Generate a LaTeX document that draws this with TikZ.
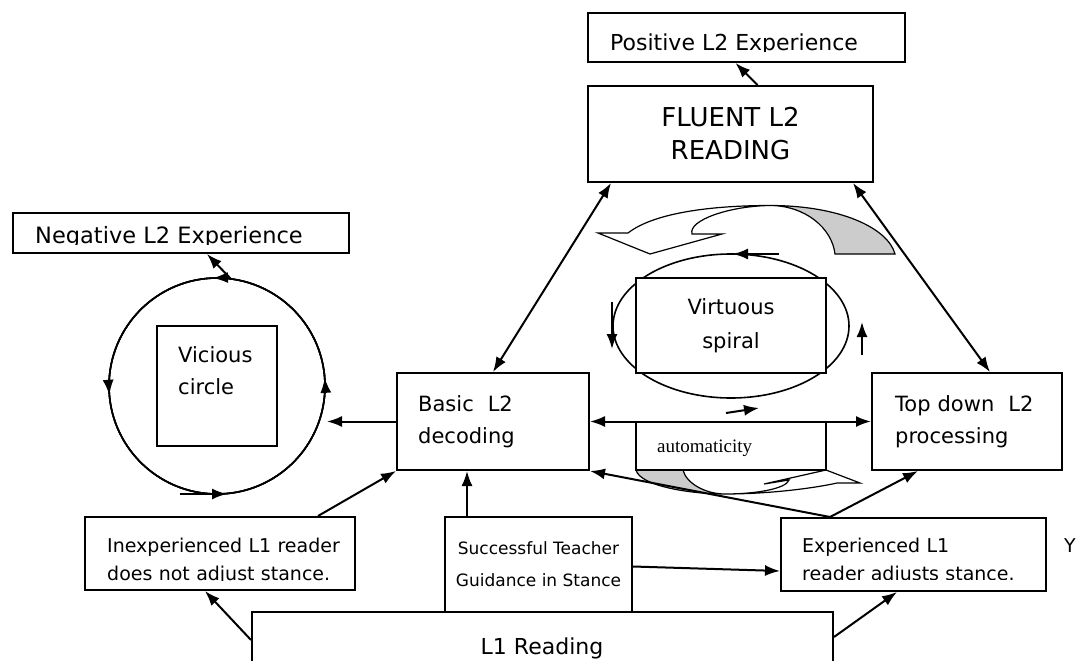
\documentclass[tikz,border=0pt]{standalone}
\usepackage{fontspec}
\setmainfont{DejaVu Sans}
\newfontfamily\timesfont{Liberation Serif}
\usetikzlibrary{arrows.meta,decorations.markings}

\tikzset{
  box/.style={draw, line width=2pt, fill=white, inner sep=0pt},
  txt/.style={inner sep=0pt, font=\fontsize{21}{32}\selectfont},
  smalltxt/.style={inner sep=0pt, font=\fontsize{19}{28}\selectfont},
  arr/.style={line width=2pt, -{Latex[length=15pt,width=11pt]}},
  darr/.style={line width=2pt, {Latex[length=15pt,width=11pt]}-{Latex[length=15pt,width=11pt]}},
  ring/.style={line width=1.6pt},
  blockfront/.style={line width=1.2pt, fill=white},
  blockback/.style={line width=1.2pt, fill=black!20},
  tipmark/.style={postaction={decorate}, decoration={markings,
      mark=at position #1 with {\arrowreversed{Latex[length=15pt,width=11pt]}}}},
}

\begin{document}
\begin{tikzpicture}[x=1pt,y=-1pt]
  \useasboundingbox (0,0) rectangle (1090,661);

  % the curved block arrows round the spiral
  \filldraw[blockback] (770,205.5) .. controls (840,205.5) and (888,228) .. (895,254)
     -- (835,254) .. controls (832,228) and (805,205.5) .. cycle;
  \filldraw[blockfront] (598,233) -- (628,233) .. controls (655,212) and (715,205.5) .. (770,205.5)
     .. controls (730,206) and (688,220) .. (692,234) -- (722,234) -- (650,254) -- cycle;
  \filldraw[blockback] (636,470) .. controls (640,486) and (690,494) .. (725,494)
     .. controls (705,494) and (686,483) .. (683,470) -- cycle;
  \filldraw[blockfront] (725,494) .. controls (770,494) and (815,488) .. (837,483) -- (860,483)
     -- (826,470) -- (764,484) -- (789,480) .. controls (786,489) and (755,494) .. cycle;

  % vicious circle
  \coordinate (vcirc) at (217,386);
  \coordinate (vctop) at (231,279);
  \coordinate (vcin) at (327,421.5);
  \draw[ring, tipmark=0.487] (vcirc) circle (108);
  \draw[ring, tipmark=0.744] (vcirc) circle (108);
  \draw[ring, tipmark=0.988] (vcirc) circle (108);
  \node[box, minimum width=120, minimum height=120] (vicious) at (vcirc) {};
  \node[txt, anchor=base west, text width=95, align=left] (vicioustxt) at (178,362) {Vicious\\circle};

  % virtuous spiral
  \coordinate (vspiral) at (731,326);
  \draw[ring] (vspiral) ellipse (118 and 72);
  \node[box, minimum width=190, minimum height=95, align=center,
        font=\fontsize{21}{34}\selectfont] (virtuous) at (731,325.5) {Virtuous\\spiral};

  % boxes
  \node[box, minimum width=317, minimum height=49] (pos) at (746.5,37.5) {};
  \begin{scope}
    \clip (588,13) rectangle (905,52);
    \node[txt, anchor=base west, font=\fontsize{22}{30}\selectfont] (postxt) at (610,51) {Positive L2 Experience};
  \end{scope}

  \node[box, minimum width=285, minimum height=96, align=center,
        font=\fontsize{26}{33}\selectfont] (fluent) at (730.5,134) {FLUENT L2\\READING};

  \node[box, minimum width=336, minimum height=40] (neg) at (181,233) {};
  \begin{scope}
    \clip (13,213) rectangle (349,244);
    \node[txt, anchor=base west, font=\fontsize{22.5}{30}\selectfont] (negtxt) at (35,243) {Negative L2 Experience};
  \end{scope}

  \node[box, minimum width=192, minimum height=97] (basic) at (493,421.5) {};
  \node[txt, anchor=base west, text width=160, align=left] (basictxt) at (418,411) {Basic\ \ L2\\decoding};

  \node[box, minimum width=190, minimum height=97] (topdown) at (967,421.5) {};
  \node[txt, anchor=base west, text width=160, align=left] (topdowntxt) at (895,411) {Top down\ \ L2\\processing};

  \node[box, minimum width=190, minimum height=48.5] (auto) at (731,445.75) {};
  \node[anchor=base west, inner sep=0pt, font=\timesfont\fontsize{19}{22}\selectfont] (autotxt) at (657,452) {automaticity};

  \node[box, minimum width=270, minimum height=73] (inexp) at (220,553.5) {};
  \begin{scope}
    \clip (85,517) rectangle (355,580);
    \node[smalltxt, anchor=base west, text width=250, align=left] (inexptxt) at (107,552)
      {Inexperienced L1 reader\\does not adjust stance.};
  \end{scope}

  \node[box, minimum width=187, minimum height=95, align=center,
        font=\fontsize{17}{32}\selectfont] (succ) at (538.5,564.5) {Successful Teacher\\Guidance in Stance};

  \node[box, minimum width=265, minimum height=73] (exp) at (913.5,554.5) {};
  \begin{scope}
    \clip (781,518) rectangle (1046,579);
    \node[smalltxt, anchor=base west, text width=240, align=left] (exptxt) at (802,552)
      {Experienced L1\\reader adjusts stance.};
  \end{scope}

  \node[box, minimum width=581, minimum height=100] (l1) at (542.5,662) {};
  \node[txt, anchor=base, font=\fontsize{22}{30}\selectfont] (l1txt) at (542,654) {L1 Reading};

  \node[smalltxt, anchor=base] (stray) at (1070,552) {Y};

  % connectors
  \draw[arr] ([xshift=27]fluent.north) -- ([xshift=-11]pos.south);
  \draw[darr] (basic.north) -- ([xshift=24]fluent.south west);
  \draw[darr] ([xshift=-21]fluent.south east) -- ([xshift=23]topdown.north);
  \draw[arr] (basic.west) -- (vcin);
  \draw[arr] (vctop) -- ([xshift=26]neg.south);
  \draw[darr] (basic.east) -- (topdown.west);
  \draw[arr] ([xshift=-83.5]exp.north) -- (basic.south east);
  \draw[arr] ([xshift=-83.5]exp.north) -- ([xshift=-49]topdown.south);
  \draw[arr] ([xshift=98]inexp.north) -- (basic.south west);
  \draw[arr] ([xshift=-71.5]succ.north) -- ([xshift=-71.5]succ.north |- basic.south);
  \draw[arr] ([yshift=-2]succ.east) -- ([yshift=-16.5]exp.west);
  \draw[arr] ([yshift=22]l1.west) -- ([xshift=-15]inexp.south);
  \draw[arr] ([yshift=25]l1.east) -- ([xshift=-16.5]exp.south);

  % small direction arrows
  \draw[arr] ([shift={(-37,108)}]vcirc) -- ++(47,0);
  \draw[arr] ([shift={(48,-72)}]vspiral) -- ++(-46,0);
  \draw[arr] ([shift={(-119,-24)}]vspiral) -- ++(0,47);
  \draw[arr] ([shift={(131,29)}]vspiral) -- ++(0,-33);
  \draw[arr] ([shift={(-5,87)}]vspiral) -- ++(33,-5);
\end{tikzpicture}
\end{document}
